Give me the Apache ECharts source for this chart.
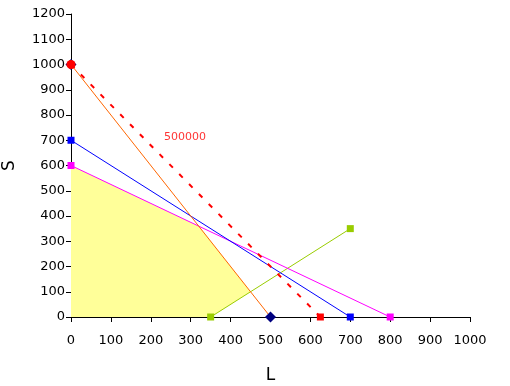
<!DOCTYPE html>
<html><head><meta charset="utf-8">
<script src="https://cdn.jsdelivr.net/npm/echarts@6/dist/echarts.min.js"></script>
<style>html,body{margin:0;padding:0;background:#fff}#c{width:510px;height:386px}</style>
</head><body><div id="c"></div>
<script>
const xTicks = {min: 0, max: 1000, interval: 100};
const yTicks = {min: 0, max: 1200, interval: 100};
const xName = 'L';
const yName = 'S';
const isoquantOrange = [[0, 1000], [500, 0]];
const isocostRed = [[0, 1000], [625, 0]];
const lineBlue = [[0, 700], [700, 0]];
const lineMagenta = [[0, 600], [800, 0]];
const lineGreen = [[350, 0], [700, 350]];
const fillRegion = [[0, 600], [320, 360], [450, 100], [350, 0]];
const redLabel = {text: '500000', at: [286, 713]};

const font = 'DejaVu Sans';
const chart = echarts.init(document.getElementById('c'), null, {renderer: 'canvas'});
chart.setOption({
  animation: false,
  backgroundColor: '#ffffff',
  grid: {left: 71, right: 40, top: 14, bottom: 69, containLabel: false, outerBoundsMode: 'none'},
  xAxis: {
    type: 'value', min: xTicks.min, max: xTicks.max, interval: xTicks.interval,
    name: xName, nameLocation: 'middle', nameGap: 50,
    nameTextStyle: {color: '#000', fontFamily: font, fontSize: 17},
    axisLine: {show: true, lineStyle: {color: '#000', width: 1}},
    axisTick: {show: true, length: 5, lineStyle: {color: '#000'}},
    axisLabel: {color: '#000', fontFamily: font, fontSize: 13, margin: 17, formatter: v => String(v), hideOverlap: false},
    splitLine: {show: false}
  },
  yAxis: {
    type: 'value', min: yTicks.min, max: yTicks.max, interval: yTicks.interval,
    name: yName, nameLocation: 'middle', nameGap: 53, nameRotate: 90,
    nameTextStyle: {color: '#000', fontFamily: font, fontSize: 17},
    axisLine: {show: true, lineStyle: {color: '#000', width: 1}},
    axisTick: {show: true, length: 5, lineStyle: {color: '#000'}},
    axisLabel: {color: '#000', fontFamily: font, fontSize: 13, margin: 6, formatter: v => String(v), hideOverlap: false},
    splitLine: {show: false}
  },
  series: [
    {type: 'line', data: fillRegion, symbol: 'none', lineStyle: {width: 0},
     areaStyle: {color: '#FFFF99', opacity: 1}, z: 1, silent: true},
    {type: 'line', data: lineGreen, symbol: 'rect', symbolSize: 7,
     lineStyle: {color: '#99CC00', width: 1}, itemStyle: {color: '#99CC00'}, z: 2},
    {type: 'line', data: lineMagenta, symbol: 'rect', symbolSize: 7,
     lineStyle: {color: '#FF00FF', width: 1}, itemStyle: {color: '#FF00FF'}, z: 3},
    {type: 'line', data: lineBlue, symbol: 'rect', symbolSize: 7,
     lineStyle: {color: '#0000FF', width: 1}, itemStyle: {color: '#0000FF'}, z: 4},
    {type: 'line', data: isoquantOrange, symbol: 'diamond', symbolSize: 11,
     lineStyle: {color: '#FF6600', width: 1}, itemStyle: {color: '#000080'}, z: 5},
    {type: 'line', data: isocostRed.map((p, i) => ({value: p, symbol: i === 0 ? 'circle' : 'rect', symbolSize: i === 0 ? 9 : 7})),
     lineStyle: {color: '#FF0000', width: 2, type: [5, 9]}, itemStyle: {color: '#FF0000'}, z: 6},
    {type: 'scatter', data: [redLabel.at], symbolSize: 0, z: 7,
     label: {show: true, position: 'inside', formatter: redLabel.text, color: '#FF0000', fontFamily: font, fontSize: 11}}
  ]
});
</script></body></html>
